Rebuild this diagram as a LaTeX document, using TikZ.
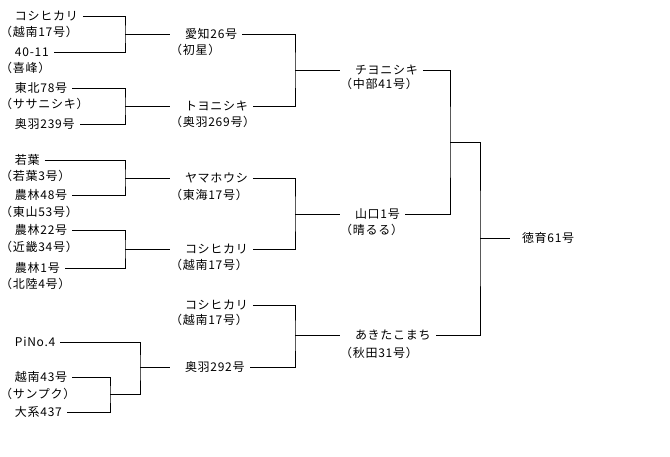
\documentclass[tikz,border=0pt]{standalone}
\usepackage{fontspec}
\setmainfont{Noto Sans CJK JP}[LetterSpace=6]
\begin{document}
\begin{tikzpicture}[x=1pt,y=-1pt,
  lbl/.style={anchor=west,inner sep=0pt,outer xsep=5pt,font=\fontsize{12}{12}\selectfont},
  sub/.style={anchor=west,inner sep=0pt,font=\fontsize{12}{12}\selectfont},
  conn/.style={draw=black,line width=1pt}]
\useasboundingbox (0,0) rectangle (670,456);
% column 1
\node[lbl] (c1a) at (10,16) {コシヒカリ};
\node[sub] (s1a) at (0,32) {（越南17号）};
\node[lbl] (c1b) at (10,52) {40-11};
\node[sub] (s1b) at (0,68) {（喜峰）};
\node[lbl] (c1c) at (10,88) {東北78号};
\node[sub] (s1c) at (0,104) {（ササニシキ）};
\node[lbl] (c1d) at (10,124) {奥羽239号};
\node[lbl] (c1e) at (10,160) {若葉};
\node[sub] (s1e) at (0,176) {（若葉3号）};
\node[lbl] (c1f) at (10,195) {農林48号};
\node[sub] (s1f) at (0,212) {（東山53号）};
\node[lbl] (c1g) at (10,230) {農林22号};
\node[sub] (s1g) at (0,247) {（近畿34号）};
\node[lbl] (c1h) at (10,268) {農林1号};
\node[sub] (s1h) at (0,284) {（北陸4号）};
\node[lbl] (c1i) at (10,342) {PiNo.4};
\node[lbl] (c1j) at (10,377) {越南43号};
\node[sub] (s1j) at (0,394) {（サンプク）};
\node[lbl] (c1k) at (10,412) {大系437};
% column 2
\node[lbl] (c2a) at (180,34) {愛知26号};
\node[sub] (s2a) at (170,50) {（初星）};
\node[lbl] (c2b) at (180,106) {トヨニシキ};
\node[sub] (s2b) at (170,122) {（奥羽269号）};
\node[lbl] (c2c) at (180,178) {ヤマホウシ};
\node[sub] (s2c) at (170,195) {（東海17号）};
\node[lbl] (c2d) at (180,249) {コシヒカリ};
\node[sub] (s2d) at (170,265) {（越南17号）};
\node[lbl] (c2e) at (180,305) {コシヒカリ};
\node[sub] (s2e) at (170,320) {（越南17号）};
\node[lbl] (c2f) at (180,367) {奥羽292号};
% column 3
\node[lbl] (c3a) at (350,70) {チヨニシキ};
\node[sub] (s3a) at (340,84) {（中部41号）};
\node[lbl] (c3b) at (350,214) {山口1号};
\node[sub] (s3b) at (340,230) {（晴るる）};
\node[lbl] (c3c) at (350,335) {あきたこまち};
\node[sub] (s3c) at (340,353) {（秋田31号）};
% column 4
\node[lbl] (c4) at (517,238) {徳育61号};
% junctions
\coordinate (j1) at (125,34);
\coordinate (j2) at (125,106);
\coordinate (j3) at (125,178);
\coordinate (j4) at (125,249);
\coordinate (j5) at (110,394);
\coordinate (j6) at (140,367);
\coordinate (j7) at (295,70);
\coordinate (j8) at (295,214);
\coordinate (j9) at (295,335);
\coordinate (j10) at (450,142);
\coordinate (j11) at (480,238);
% connectors
\draw[conn] (c1a.east) -| (j1) |- (c1b.east);
\draw[conn] (j1) -- ([xshift=-10pt]c2a.west);
\draw[conn] (c1c.east) -| (j2) |- (c1d.east);
\draw[conn] (j2) -- ([xshift=-10pt]c2b.west);
\draw[conn] (c1e.east) -| (j3) |- (c1f.east);
\draw[conn] (j3) -- ([xshift=-10pt]c2c.west);
\draw[conn] (c1g.east) -| (j4) |- (c1h.east);
\draw[conn] (j4) -- ([xshift=-10pt]c2d.west);
\draw[conn] (c1j.east) -| (j5) |- (c1k.east);
\draw[conn] (c1i.east) -| (j6) |- (j5);
\draw[conn] (j6) -- ([xshift=-10pt]c2f.west);
\draw[conn] (c2a.east) -| (j7) |- (c2b.east);
\draw[conn] (j7) -- ([xshift=-10pt]c3a.west);
\draw[conn] (c2c.east) -| (j8) |- (c2d.east);
\draw[conn] (j8) -- ([xshift=-10pt]c3b.west);
\draw[conn] (c2e.east) -| (j9) |- (c2f.east);
\draw[conn] (j9) -- ([xshift=-10pt]c3c.west);
\draw[conn] (c3a.east) -| (j10) |- (c3b.east);
\draw[conn] (j10) -| (j11) |- (c3c.east);
\draw[conn] (j11) -- ([xshift=-7pt]c4.west);
\end{tikzpicture}
\end{document}
